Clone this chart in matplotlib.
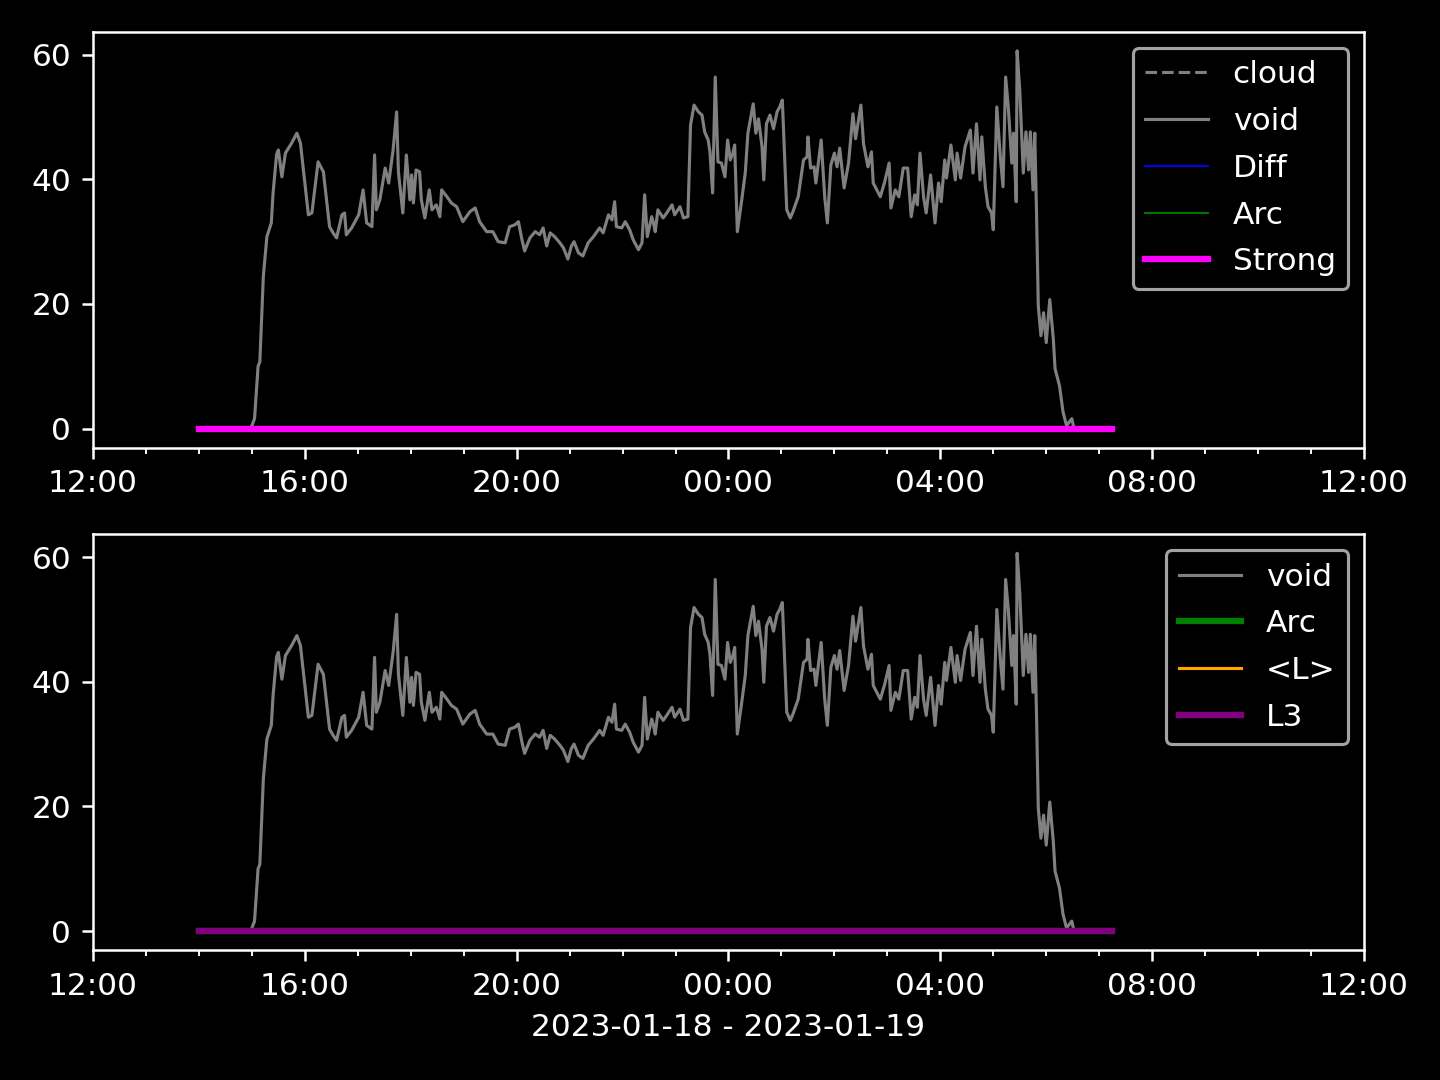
import numpy as np
import pandas as pd
import matplotlib
matplotlib.use('Agg')
import matplotlib.pyplot as plt
import matplotlib.dates as mdates

# void signal (clock time, value)
void_times = [
    "14:00", "14:58", "15:00", "15:03", "15:07", "15:09", "15:13", "15:17", "15:22", "15:24",
    "15:28", "15:30", "15:34", "15:38", "15:45", "15:51", "15:55", "16:04", "16:08", "16:15",
    "16:21", "16:28", "16:32", "16:36", "16:42", "16:45", "16:47", "16:53", "17:01", "17:06",
    "17:10", "17:16", "17:19", "17:21", "17:25", "17:31", "17:35", "17:40", "17:44", "17:46",
    "17:51", "17:55", "17:59", "18:01", "18:03", "18:06", "18:10", "18:12", "18:16", "18:21",
    "18:24", "18:29", "18:33", "18:35", "18:41", "18:46", "18:52", "18:59", "19:07", "19:13",
    "19:18", "19:26", "19:33", "19:39", "19:47", "19:52", "19:58", "20:02", "20:06", "20:09",
    "20:15", "20:21", "20:26", "20:30", "20:34", "20:38", "20:43", "20:49", "20:53", "20:58",
    "21:02", "21:05", "21:10", "21:15", "21:21", "21:27", "21:34", "21:38", "21:44", "21:48",
    "21:51", "21:53", "21:59", "22:03", "22:08", "22:12", "22:18", "22:22", "22:25", "22:28",
    "22:33", "22:35", "22:37", "22:40", "22:46", "22:50", "22:56", "22:59", "23:05", "23:09",
    "23:14", "23:17", "23:21", "23:26", "23:30", "23:33", "23:37", "23:39", "23:42", "23:45",
    "23:48", "23:52", "23:56", "23:59", "00:02", "00:05", "00:07", "00:10", "00:15", "00:19",
    "00:22", "00:28", "00:31", "00:34", "00:38", "00:40", "00:43", "00:47", "00:51", "00:55",
    "00:58", "01:01", "01:06", "01:10", "01:13", "01:19", "01:25", "01:29", "01:30", "01:33",
    "01:37", "01:39", "01:45", "01:49", "01:52", "01:56", "02:00", "02:03", "02:06", "02:11",
    "02:16", "02:21", "02:24", "02:30", "02:33", "02:38", "02:42", "02:44", "02:52", "02:57",
    "03:02", "03:04", "03:09", "03:13", "03:18", "03:23", "03:27", "03:31", "03:34", "03:37",
    "03:41", "03:44", "03:49", "03:54", "03:58", "04:01", "04:05", "04:07", "04:12", "04:17",
    "04:19", "04:23", "04:28", "04:34", "04:37", "04:41", "04:45", "04:47", "04:51", "04:54",
    "04:58", "05:00", "05:04", "05:08", "05:11", "05:14", "05:17", "05:21", "05:23", "05:26",
    "05:27", "05:30", "05:34", "05:37", "05:40", "05:42", "05:45", "05:47", "05:49", "05:51",
    "05:54", "05:57", "06:00", "06:04", "06:08", "06:10", "06:15", "06:19", "06:23", "06:29",
    "06:31", "06:35", "07:15",
]
void_values = [
    0, 0, 0.5, 1.6, 10, 10.7, 24.5, 30.8, 33, 37.8,
    44, 44.7, 40.4, 44.2, 45.8, 47.4, 45.8, 34.3, 34.6, 42.8,
    41.2, 32.4, 31.4, 30.6, 34.3, 34.6, 31.1, 32.2, 34.3, 38.3,
    33, 32.4, 43.9, 35.1, 36.7, 41.8, 39.4, 44.7, 50.8, 41.2,
    34.6, 43.9, 36.7, 40.7, 36.2, 41.5, 41.2, 36.7, 33.8, 38.3,
    35.1, 35.9, 34, 38.3, 37.2, 36.2, 35.6, 33.2, 34.8, 35.4,
    33.2, 31.6, 31.6, 30, 29.8, 32.4, 32.7, 33.2, 30.3, 28.5,
    30.6, 31.6, 31.1, 32.2, 29.3, 31.4, 30.8, 29.8, 29, 27.2,
    29.3, 30, 28.2, 27.7, 29.8, 30.8, 32.2, 31.4, 34.3, 33.5,
    36.4, 32.4, 32.2, 33.2, 31.9, 30.3, 28.7, 29.8, 37.5, 30.8,
    34, 33, 31.6, 35.1, 33.8, 34.6, 35.9, 34.3, 35.6, 33.8,
    34, 48.7, 51.9, 50.8, 50.3, 47.6, 46.3, 44.4, 37.8, 56.4,
    42.8, 42.6, 40.4, 46.3, 43.1, 44.2, 45.5, 31.6, 36.7, 41,
    47.4, 52.1, 47.4, 49.7, 45.2, 39.9, 48.9, 50.3, 48.1, 50.8,
    51.6, 52.7, 35.1, 33.8, 34.8, 37.2, 43.1, 43.6, 46.8, 41.8,
    42, 39.4, 46.3, 37.2, 33, 42.3, 44.2, 42, 45, 38.6,
    42.6, 50.5, 46.5, 51.9, 45.7, 42, 44.4, 39.4, 37.2, 39.6,
    42.6, 35.4, 38.3, 37.2, 41.8, 41.8, 34, 37.5, 35.9, 44.2,
    37.2, 34.6, 40.7, 33, 39.4, 36.4, 43.1, 40.2, 45.5, 39.9,
    44.2, 40.2, 45.2, 47.9, 41, 48.9, 39.9, 46.8, 38.8, 35.6,
    34.6, 31.9, 51.6, 43.6, 38.8, 56.4, 51.6, 42.6, 47.4, 36.4,
    60.6, 54.3, 41, 47.6, 41.5, 47.6, 38.3, 47.4, 34.6, 19.7,
    14.9, 18.6, 13.8, 20.7, 14.4, 9.6, 6.9, 2.7, 0.5, 1.6,
    0.3, 0, 0,
]

# the other series stay at zero over the whole run
flat_times = ["14:00", "07:15"]
flat_values = [0, 0]

day0 = pd.Timestamp("2023-01-18")


def to_dt(times):
    out = []
    for t in times:
        ts = pd.Timestamp(f"2023-01-18 {t}")
        if ts.hour < 12:
            ts += pd.Timedelta(days=1)
        out.append(ts)
    return out


tv = to_dt(void_times)
tf = to_dt(flat_times)

plt.style.use('dark_background')
fig, (ax1, ax2) = plt.subplots(2, 1, figsize=(6.4, 4.8), dpi=225)
fig.subplots_adjust(left=0.0646, right=0.9472, top=0.9704, bottom=0.1204, hspace=0.209)

ax1.plot(tf, flat_values, color='gray', ls='--', lw=1, label='cloud')
ax1.plot(tv, void_values, color='gray', lw=1, label='void')
ax1.plot(tf, flat_values, color='blue', lw=0.6, label='Diff')
ax1.plot(tf, flat_values, color='green', lw=0.6, label='Arc')
ax1.plot(tf, flat_values, color='magenta', lw=2, label='Strong')
ax1.legend(loc='upper right', labelspacing=0.57)

ax2.plot(tv, void_values, color='gray', lw=1, label='void')
ax2.plot(tf, flat_values, color='green', lw=2, label='Arc')
ax2.plot(tf, flat_values, color='orange', lw=1, label='<L>')
ax2.plot(tf, flat_values, color='purple', lw=2, label='L3')
ax2.legend(loc='upper right', labelspacing=0.57)

for ax in (ax1, ax2):
    ax.set_xlim(day0 + pd.Timedelta(hours=12), day0 + pd.Timedelta(hours=36))
    ax.set_yticks([0, 20, 40, 60])
    ax.xaxis.set_major_locator(mdates.HourLocator(byhour=range(0, 24, 4)))
    ax.xaxis.set_minor_locator(mdates.HourLocator())
    ax.xaxis.set_major_formatter(mdates.DateFormatter('%H:%M'))

ax2.set_xlabel('2023-01-18 - 2023-01-19')
plt.savefig('out.png')
